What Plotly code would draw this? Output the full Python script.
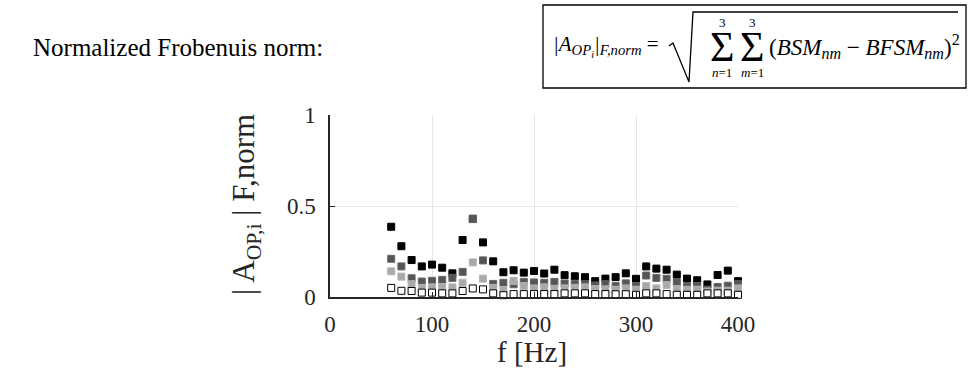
import plotly.graph_objects as go

# ---- data ----
freq = [60, 70, 80, 90, 100, 110, 120, 130, 140, 150, 160, 170, 180, 190, 200,
        210, 220, 230, 240, 250, 260, 270, 280, 290, 300, 310, 320, 330, 340,
        350, 360, 370, 380, 390, 400]
s_black = [0.386, 0.279, 0.203, 0.168, 0.178, 0.161, 0.130, 0.313, 0.430, 0.300,
           0.196, 0.136, 0.147, 0.134, 0.143, 0.129, 0.150, 0.120, 0.114, 0.109,
           0.087, 0.101, 0.109, 0.130, 0.100, 0.168, 0.156, 0.150, 0.123, 0.101,
           0.092, 0.069, 0.121, 0.145, 0.087]
s_dark = [0.210, 0.168, 0.103, 0.085, 0.089, 0.094, 0.105, 0.138, 0.428, 0.201,
          0.072, 0.078, 0.070, 0.083, 0.080, 0.078, 0.083, 0.074, 0.072, 0.070,
          0.063, 0.070, 0.060, 0.075, 0.060, 0.118, 0.105, 0.100, 0.080, 0.055,
          0.060, 0.040, 0.055, 0.062, 0.070]
s_light = [0.141, 0.112, 0.070, 0.050, 0.053, 0.055, 0.053, 0.078, 0.190, 0.101,
           0.050, 0.038, 0.089, 0.060, 0.047, 0.053, 0.045, 0.047, 0.050, 0.053,
           0.043, 0.042, 0.040, 0.047, 0.040, 0.060, 0.047, 0.065, 0.043, 0.040,
           0.040, 0.030, 0.035, 0.035, 0.047]
s_white = [0.050, 0.034, 0.033, 0.024, 0.024, 0.020, 0.020, 0.033, 0.047, 0.042,
           0.020, 0.010, 0.016, 0.016, 0.016, 0.016, 0.016, 0.020, 0.020, 0.020,
           0.016, 0.016, 0.015, 0.015, 0.012, 0.020, 0.020, 0.016, 0.012, 0.012,
           0.012, 0.020, 0.020, 0.020, 0.012]
x_ticks = [0, 100, 200, 300, 400]
y_ticks = [0, 0.5, 1]
y_tick_text = ["0", "0.5", "1"]

FONT = "Liberation Serif"
W, H = 968, 387
L, R, T, B = 330, 738, 115, 297   # plot area in pixels


def px(x):
    return (x - L) / (R - L)


def py(y):
    return (B - y) / (B - T)


fig = go.Figure()
series = [
    (s_black, "#000000", "#000000"),
    (s_dark, "#555555", "#666666"),
    (s_light, "#a9a9a9", "#b5b5b5"),
    (s_white, "#ffffff", "#000000"),
]
for vals, fill, edge in series:
    fig.add_trace(go.Scatter(
        x=freq, y=vals, mode="markers", cliponaxis=False, showlegend=False,
        marker=dict(symbol="square", size=7, color=fill,
                    line=dict(color=edge, width=1)),
    ))

axis_common = dict(
    showgrid=True, gridcolor="#e6e6e6", gridwidth=1,
    showline=True, linecolor="#262626", linewidth=1.5,
    ticks="inside", ticklen=5, tickcolor="#262626", tickwidth=1,
    tickfont=dict(family=FONT, size=23, color="#262626"),
    zeroline=False, mirror=False,
)
fig.update_xaxes(range=[0, 400], tickvals=x_ticks, ticklabelstandoff=6,
                 **axis_common)
fig.update_yaxes(range=[0, 1], tickvals=y_ticks, ticktext=y_tick_text,
                 ticklabelstandoff=8, **axis_common)

annotations = []
# axis titles
annotations.append(dict(xref="paper", yref="paper", x=px(532), y=py(352),
                        text="f [Hz]", showarrow=False,
                        font=dict(family=FONT, size=29, color="#262626"),
                        xanchor="center", yanchor="middle"))
annotations.append(dict(xref="paper", yref="paper", x=px(246), y=py(205),
                        text="| A<sub>OP,i</sub> | F,norm", textangle=-90,
                        showarrow=False,
                        font=dict(family=FONT, size=31, color="#262626"),
                        xanchor="center", yanchor="middle"))
# heading text
annotations.append(dict(xref="paper", yref="paper", x=px(31), y=py(47),
                        text="Normalized Frobenuis norm:", showarrow=False,
                        font=dict(family=FONT, size=25, color="#000000"),
                        xanchor="left", yanchor="middle"))
# formula
annotations.append(dict(xref="paper", yref="paper", x=px(551), y=py(46),
                        text="<i>|A<sub>OP<sub>i</sub></sub>|<sub>F,norm</sub></i> =",
                        showarrow=False,
                        font=dict(family=FONT, size=21, color="#000000"),
                        xanchor="left", yanchor="middle"))
for cx, low in [(722, "<i>n</i>=1"), (752, "<i>m</i>=1")]:
    annotations.append(dict(xref="paper", yref="paper", x=px(cx), y=py(47),
                            text="Σ", showarrow=False,
                            font=dict(family=FONT, size=42, color="#000000"),
                            xanchor="center", yanchor="middle"))
    annotations.append(dict(xref="paper", yref="paper", x=px(cx), y=py(22),
                            text="3", showarrow=False,
                            font=dict(family=FONT, size=13, color="#000000"),
                            xanchor="center", yanchor="middle"))
    annotations.append(dict(xref="paper", yref="paper", x=px(cx), y=py(73),
                            text=low, showarrow=False,
                            font=dict(family=FONT, size=13, color="#000000"),
                            xanchor="center", yanchor="middle"))
annotations.append(dict(xref="paper", yref="paper", x=px(767), y=py(46),
                        text="(<i>BSM<sub>nm</sub></i> − <i>BFSM<sub>nm</sub></i>)<sup>2</sup>",
                        showarrow=False,
                        font=dict(family=FONT, size=23, color="#000000"),
                        xanchor="left", yanchor="middle"))

shapes = [
    dict(type="rect", xref="paper", yref="paper",
         x0=px(543), x1=px(966), y0=py(5), y1=py(88),
         line=dict(color="#000000", width=1.3), fillcolor="rgba(0,0,0,0)"),
    dict(type="path", xref="paper", yref="paper",
         path=("M %f,%f L %f,%f L %f,%f L %f,%f L %f,%f" % (
             px(669), py(46), px(673), py(43), px(689), py(82),
             px(693), py(12), px(958), py(12))),
         line=dict(color="#000000", width=1.3)),
]

fig.update_layout(
    width=W, height=H,
    margin=dict(l=L, r=W - R, t=T, b=H - B, autoexpand=False),
    paper_bgcolor="white", plot_bgcolor="white",
    annotations=annotations, shapes=shapes,
    font=dict(family=FONT),
)

fig.write_html("out.html")
